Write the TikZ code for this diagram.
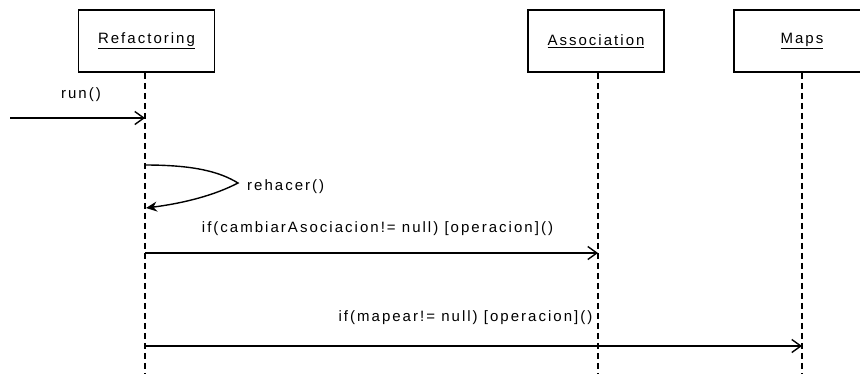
\documentclass[tikz,border=0pt]{standalone}
\usepackage{fontspec}
\setmainfont{Liberation Sans}[LetterSpace=13.5]
\usetikzlibrary{arrows.meta}
\begin{document}
\begin{tikzpicture}[x=1pt,y=-1pt,
  font=\fontsize{15}{17}\selectfont,
  objbox/.style={draw,line width=1.5pt,minimum width=136pt,minimum height=62pt,inner sep=0pt},
  lifeline/.style={line width=1.4pt,dash pattern=on 6pt off 4pt},
  msg/.style={line width=1.4pt,-{Straight Barb[length=9pt,width=13pt,line width=1.4pt]}},
  selfmsg/.style={line width=1.4pt,-{Stealth[length=11pt,width=10pt]}},
  lbl/.style={inner sep=0pt}]
\useasboundingbox (0,0) rectangle (860,373);
\clip (0,0) rectangle (860,373);

% objects
\node[objbox] (ref) at (146.5,41) {\underline{Refactoring}};
\node[objbox] (assoc) at (596,41) {\underline{Association}};
\node[objbox] (maps) at (802,41) {\underline{Maps}};

% lifeline ends
\coordinate (refend) at (145,375);
\coordinate (assocend) at (598,375);
\coordinate (mapsend) at (802,375);
\draw[lifeline] (ref.south -| refend) -- (refend);
\draw[lifeline] (assoc.south -| assocend) -- (assocend);
\draw[lifeline] (maps.south -| mapsend) -- (mapsend);

% points on the lifelines
\coordinate (src) at (10,118);
\coordinate (r1) at (145,118);
\coordinate (r2a) at (145,165);
\coordinate (r2b) at (146,208);
\coordinate (r3) at (145,253);
\coordinate (a3) at (598,253);
\coordinate (r4) at (145,346);
\coordinate (m4) at (802,346);

% messages
\draw[msg] (src) -- (r1);
\node[lbl] (runlbl) at (81,95) {run()};

\draw[selfmsg] (r2a) .. controls (195,165) and (220,172) .. (238,183)
  .. controls (215,195) and (185,203) .. (r2b);
\node[lbl,anchor=west] (rehlbl) at (247,187) {rehacer()};

\draw[msg] (r3) -- (a3);
\node[lbl] (lbl3) at (377.5,229) {if(cambiarAsociacion!= null) [operacion]()};

\draw[msg] (r4) -- (m4);
\node[lbl] (lbl4) at (465.5,318) {if(mapear!= null) [operacion]()};
\end{tikzpicture}
\end{document}
